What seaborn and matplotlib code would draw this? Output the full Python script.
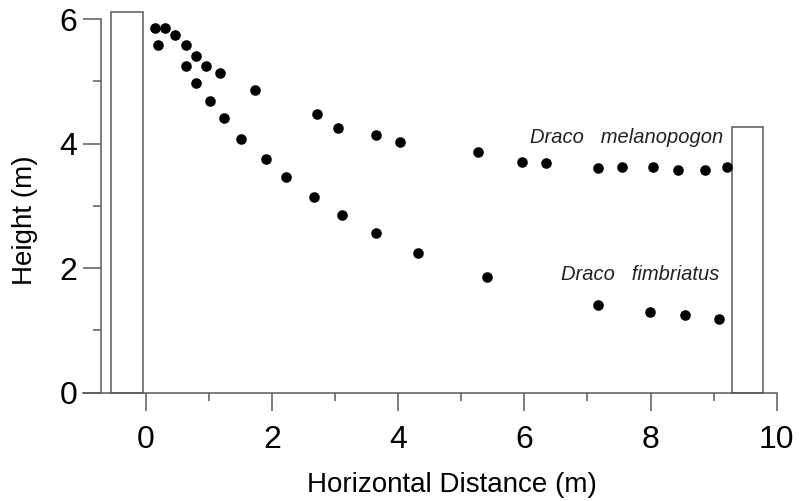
import numpy as np
import pandas as pd
import seaborn as sns
import matplotlib.pyplot as plt
from matplotlib.ticker import FixedLocator

# Draco gliding trajectories
melanopogon_x = [0.14, 0.31, 0.46, 0.63, 0.80, 0.96, 1.18, 1.73, 2.71, 3.05, 3.65, 4.03,
                 5.27, 5.96, 6.34, 7.17, 7.55, 8.04, 8.44, 8.87, 9.21]
melanopogon_y = [5.86, 5.86, 5.75, 5.58, 5.41, 5.24, 5.14, 4.86, 4.47, 4.25, 4.14, 4.02,
                 3.86, 3.71, 3.69, 3.61, 3.63, 3.63, 3.58, 3.58, 3.63]
fimbriatus_x = [0.19, 0.63, 0.80, 1.02, 1.24, 1.51, 1.90, 2.22, 2.66, 3.11, 3.65, 4.32,
                5.41, 7.17, 7.99, 8.54, 9.09]
fimbriatus_y = [5.58, 5.24, 4.97, 4.69, 4.41, 4.08, 3.75, 3.47, 3.14, 2.85, 2.57, 2.24,
                1.86, 1.41, 1.30, 1.25, 1.19]

# launch / landing poles
pole_left = [-0.55, 9.29]
pole_width = [0.50, 0.49]
pole_height = [6.11, 4.26]

x_ticks = [0, 2, 4, 6, 8, 10]
y_ticks = [0, 2, 4, 6]

df = pd.DataFrame({
    "x": melanopogon_x + fimbriatus_x,
    "y": melanopogon_y + fimbriatus_y,
    "species": ["Draco   melanopogon"] * len(melanopogon_x) + ["Draco   fimbriatus"] * len(fimbriatus_x),
})

sns.set_style("ticks")
plt.rcParams['font.family'] = ['Liberation Sans', 'DejaVu Sans']
plt.rcParams['text.color'] = 'black'
plt.rcParams['axes.labelcolor'] = 'black'
plt.rcParams['xtick.labelcolor'] = 'black'
plt.rcParams['ytick.labelcolor'] = 'black'

grey = "#5a5a5a"
fig = plt.figure(figsize=(8.04, 5.01), dpi=100)
ax = fig.add_axes([0.1029, 0.2162, 0.8632, 0.7458])

sns.scatterplot(data=df, x="x", y="y", color="black", s=58, linewidth=0, legend=False, ax=ax, zorder=3)

bars = ax.bar(pole_left, pole_height, width=pole_width, align="edge", fill=False,
              edgecolor=grey, linewidth=1.1)
for p in bars:
    p.set_clip_on(False)

ax.set_xlim(-1, 10)
ax.set_ylim(0, 6)

for s in ["top", "right"]:
    ax.spines[s].set_visible(False)
ax.spines["left"].set_position(("data", -0.71))
for s in ["left", "bottom"]:
    ax.spines[s].set_color(grey)
    ax.spines[s].set_linewidth(1.1)

ax.xaxis.set_major_locator(FixedLocator(x_ticks))
ax.xaxis.set_minor_locator(FixedLocator([1, 3, 5, 7, 9]))
ax.yaxis.set_major_locator(FixedLocator(y_ticks))
ax.yaxis.set_minor_locator(FixedLocator([1, 3, 5]))
ax.set_xticklabels([str(t) for t in x_ticks])
ax.set_yticklabels([str(t) for t in y_ticks])

ax.tick_params(which="major", length=13, width=1.1, color=grey, labelsize=23, labelcolor="black")
ax.tick_params(which="minor", length=5.5, width=1.1, color=grey)
ax.tick_params(axis="x", which="major", pad=10)
ax.tick_params(axis="y", which="major", pad=4)

ax.set_xlabel("Horizontal Distance (m)", fontsize=20, va="center", color="black")
ax.set_ylabel("Height (m)", fontsize=20, va="center", color="black")
ax.xaxis.set_label_coords(0.532, -0.247)
ax.yaxis.set_label_coords(-0.083, 0.462)

ax.text(9.15, 4.10, "Draco   melanopogon", fontsize=14.5, style="italic", ha="right", va="center", color="#222222")
ax.text(9.09, 1.89, "Draco   fimbriatus", fontsize=14.5, style="italic", ha="right", va="center", color="#222222")

fig.savefig("out.png", dpi=100)
